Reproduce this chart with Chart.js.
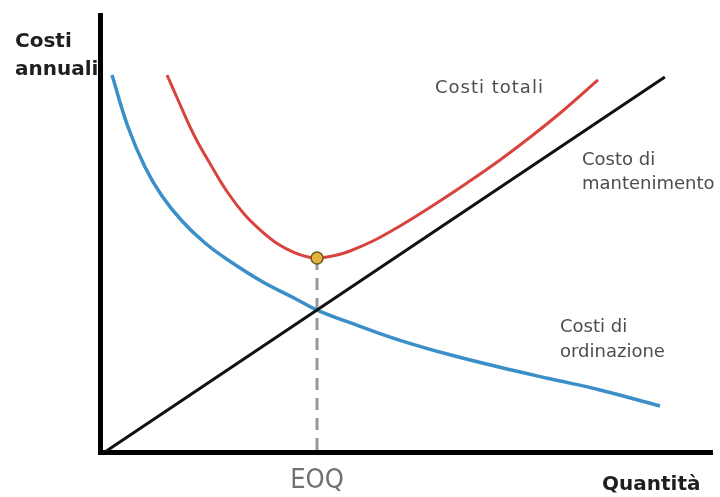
<!DOCTYPE html>
<html lang="it">
<head>
<meta charset="utf-8">
<title>Lotto economico d'acquisto (EOQ)</title>
<script src="https://cdn.jsdelivr.net/npm/chart.js@4.4.1/dist/chart.umd.min.js"></script>
<style>
  html, body { margin: 0; padding: 0; background: #ffffff; }
  #wrap { width: 720px; height: 497px; }
</style>
</head>
<body>
<div id="wrap"><canvas id="eoq" width="720" height="497"></canvas></div>
<script>
// Costi di ordinazione (curva decrescente)
const orderQty  = [1.96, 4.58, 7.35, 10.13, 13.40, 17.16, 20.92, 26.47, 31.86, 35.46, 42.48, 49.02, 57.19, 65.36, 73.53, 81.70, 91.50];
const orderCost = [86.27, 74.37, 65.22, 58.58, 52.86, 47.83, 43.94, 39.02, 35.13, 32.49, 28.76, 25.56, 22.24, 19.38, 16.75, 14.19, 10.53];

// Costo di mantenimento (retta crescente)
const holdQty  = [0.8, 35.46, 92.3];
const holdCost = [0.0, 32.49, 85.8];

// Costi totali (curva a U)
const totalQty  = [10.95, 12.75, 15.52, 18.30, 20.92, 23.69, 26.47, 29.08, 31.86, 33.99, 35.46, 38.40, 40.85, 44.93, 49.02, 54.41, 59.97, 65.36, 70.75, 75.98, 81.37];
const totalCost = [86.27, 80.55, 72.08, 65.22, 59.27, 54.23, 50.46, 47.60, 45.54, 44.62, 44.39, 44.97, 46.00, 48.51, 51.72, 56.41, 61.56, 66.82, 72.54, 78.49, 85.13];

// Punto di minimo: lotto economico
const eoqQty  = 35.46;
const eoqCost = 44.39;

// Etichette
const xTickLabel  = 'EOQ';
const yAxisTitle  = ['Costi', 'annuali'];
const xAxisTitle  = 'Quantità';
const totalLabel  = ['Costi totali'];
const holdLabel   = ['Costo di', 'mantenimento'];
const orderLabel  = ['Costi di', 'ordinazione'];

const toPoints = (xs, ys) => xs.map((x, i) => ({ x: x, y: ys[i] }));

// Testi fissi disegnati sul canvas
const textPlugin = {
  id: 'eoqTexts',
  afterDraw(chart) {
    const ctx = chart.ctx;
    ctx.save();
    ctx.textAlign = 'left';
    ctx.textBaseline = 'alphabetic';

    ctx.fillStyle = '#1f1f1f';
    ctx.font = 'bold 20px "DejaVu Sans"';
    ctx.fillText(yAxisTitle[0], 15, 47);
    ctx.fillText(yAxisTitle[1], 15, 75);
    ctx.fillText(xAxisTitle, 602, 490);

    ctx.fillStyle = '#4d4d4d';
    ctx.font = '18px "DejaVu Sans"';
    ctx.letterSpacing = '1px';
    ctx.fillText(totalLabel[0], 435, 93);
    ctx.letterSpacing = '0px';
    ctx.fillText(holdLabel[0], 582, 165);
    ctx.fillText(holdLabel[1], 582, 189);
    ctx.fillText(orderLabel[0], 560, 332);
    ctx.fillText(orderLabel[1], 560, 357);
    ctx.restore();
  }
};

new Chart(document.getElementById('eoq'), {
  type: 'line',
  data: {
    datasets: [
      {
        label: 'EOQ',
        data: [{ x: eoqQty, y: eoqCost }],
        showLine: false,
        pointRadius: 6,
        pointBackgroundColor: '#e2b23a',
        pointBorderColor: '#6e5a1c',
        pointBorderWidth: 1.5
      },
      {
        label: 'Costi totali',
        data: toPoints(totalQty, totalCost),
        borderColor: '#d8443d',
        borderWidth: 3,
        pointRadius: 0,
        tension: 0.4
      },
      {
        label: 'Costo di mantenimento',
        data: toPoints(holdQty, holdCost),
        borderColor: '#111111',
        borderWidth: 3,
        pointRadius: 0,
        tension: 0
      },
      {
        label: 'Costi di ordinazione',
        data: toPoints(orderQty, orderCost),
        borderColor: '#3a8fc8',
        borderWidth: 3.5,
        pointRadius: 0,
        tension: 0.4
      },
      {
        label: 'EOQ guida',
        data: [{ x: eoqQty, y: eoqCost }, { x: eoqQty, y: 0 }],
        borderColor: '#999999',
        borderWidth: 3,
        borderDash: [12, 8],
        pointRadius: 0,
        tension: 0
      }
    ]
  },
  options: {
    responsive: false,
    animation: false,
    layout: { padding: { top: 15, right: 8, left: 0, bottom: 0 } },
    plugins: {
      legend: { display: false },
      tooltip: { enabled: false }
    },
    scales: {
      x: {
        type: 'linear',
        min: 0,
        max: 100,
        grid: { display: false, drawTicks: false },
        border: { display: true, color: '#000000', width: 5 },
        afterBuildTicks: (scale) => { scale.ticks = [{ value: eoqQty }]; },
        afterFit: (scale) => { scale.height = 45; },
        ticks: {
          padding: 13,
          color: '#707070',
          font: { family: '"DejaVu Sans Condensed", "DejaVu Sans"', size: 27 },
          maxRotation: 0,
          autoSkip: false,
          callback: () => xTickLabel
        }
      },
      y: {
        type: 'linear',
        min: 0,
        max: 100,
        grid: { display: false, drawTicks: false },
        border: { display: true, color: '#000000', width: 5 },
        afterFit: (scale) => { scale.width = 100; },
        ticks: { display: false }
      }
    }
  },
  plugins: [textPlugin]
});
</script>
</body>
</html>
